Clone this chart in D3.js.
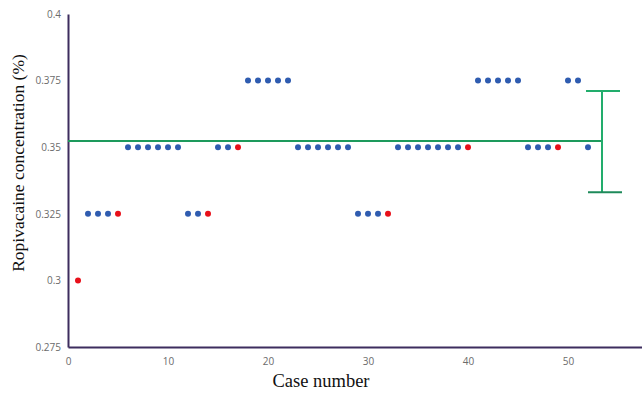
<!DOCTYPE html>
<html>
<head>
<meta charset="utf-8">
<script src="https://cdn.jsdelivr.net/npm/d3@7"></script>
<style>
  body { margin: 0; background: #fff; }
  svg { display: block; }
</style>
</head>
<body>
<div id="chart"></div>
<script>
// case number, concentration (%), and whether the block failed (red)
var cases = d3.range(1, 53);
var conc = [0.3, 0.325, 0.325, 0.325, 0.325, 0.35, 0.35, 0.35, 0.35, 0.35,
            0.35, 0.325, 0.325, 0.325, 0.35, 0.35, 0.35, 0.375, 0.375, 0.375,
            0.375, 0.375, 0.35, 0.35, 0.35, 0.35, 0.35, 0.35, 0.325, 0.325,
            0.325, 0.325, 0.35, 0.35, 0.35, 0.35, 0.35, 0.35, 0.35, 0.35,
            0.375, 0.375, 0.375, 0.375, 0.375, 0.35, 0.35, 0.35, 0.35, 0.375,
            0.375, 0.35];
var failed = [1, 5, 14, 17, 32, 40, 49];

var yTicks = [0.275, 0.3, 0.325, 0.35, 0.375, 0.4];
var xTicks = [0, 10, 20, 30, 40, 50];

// mean with error bar
var meanValue = 0.3523;
var errLow = 0.3331, errHigh = 0.3711;
var errCase = 53.4;

var width = 642, height = 395;
var margin = {left: 68, right: 0, top: 14, bottom: 47};

var svg = d3.select("#chart").append("svg")
    .attr("width", width)
    .attr("height", height);

var x = d3.scaleLinear()
    .domain([0, 57.4])
    .range([margin.left, width - margin.right]);

var y = d3.scaleLinear()
    .domain([0.275, 0.4])
    .range([height - margin.bottom - 1, margin.top]);

// axes
var axisColor = "#3d2d5e";
var xAxis = svg.append("g")
    .attr("transform", "translate(0," + y(0.275) + ")")
    .call(d3.axisBottom(x).tickValues(xTicks).tickSize(0).tickPadding(11));
var yAxis = svg.append("g")
    .attr("transform", "translate(" + x(0) + ",0)")
    .call(d3.axisLeft(y).tickValues(yTicks).tickSize(0).tickPadding(7)
        .tickFormat(function(d) { return String(+d.toFixed(3)); }));

[xAxis, yAxis].forEach(function(a) {
    a.select(".domain").attr("stroke", axisColor).attr("stroke-width", 2);
    a.selectAll("text")
        .attr("fill", "#6b6b6b")
        .style("font-family", "'Open Sans', sans-serif")
        .style("font-size", "10px");
});

// mean line
svg.append("line")
    .attr("x1", x(0)).attr("x2", x(errCase))
    .attr("y1", y(meanValue)).attr("y2", y(meanValue))
    .attr("stroke", "#1d9a5c")
    .attr("stroke-width", 2);

// error bar
var eb = svg.append("g").attr("stroke", "#22ad6c").attr("stroke-width", 2);
eb.append("line")
    .attr("x1", x(errCase)).attr("x2", x(errCase))
    .attr("y1", y(errHigh)).attr("y2", y(errLow));
eb.append("line")
    .attr("x1", x(errCase - 1.6)).attr("x2", x(errCase + 1.8))
    .attr("y1", y(errHigh)).attr("y2", y(errHigh));
eb.append("line")
    .attr("x1", x(errCase - 1.4)).attr("x2", x(errCase + 2))
    .attr("y1", y(errLow)).attr("y2", y(errLow))
    .attr("stroke", "#1e8a5a");

// dots
svg.append("g")
    .selectAll("circle")
    .data(cases)
    .enter()
    .append("circle")
    .attr("cx", function(d) { return x(d); })
    .attr("cy", function(d, i) { return y(conc[i]); })
    .attr("r", 3)
    .attr("fill", function(d) {
        return failed.indexOf(d) >= 0 ? "#e8101a" : "#2f5cb0";
    });

// axis titles
svg.append("text")
    .attr("x", 321)
    .attr("y", 387)
    .attr("text-anchor", "middle")
    .style("font-family", "'Liberation Serif', serif")
    .style("font-size", "18.5px")
    .attr("fill", "#111")
    .text("Case number");

svg.append("text")
    .attr("transform", "translate(24,163) rotate(-90)")
    .attr("text-anchor", "middle")
    .style("font-family", "'Liberation Serif', serif")
    .style("font-size", "17.5px")
    .attr("fill", "#111")
    .text("Ropivacaine concentration (%)");
</script>
</body>
</html>
